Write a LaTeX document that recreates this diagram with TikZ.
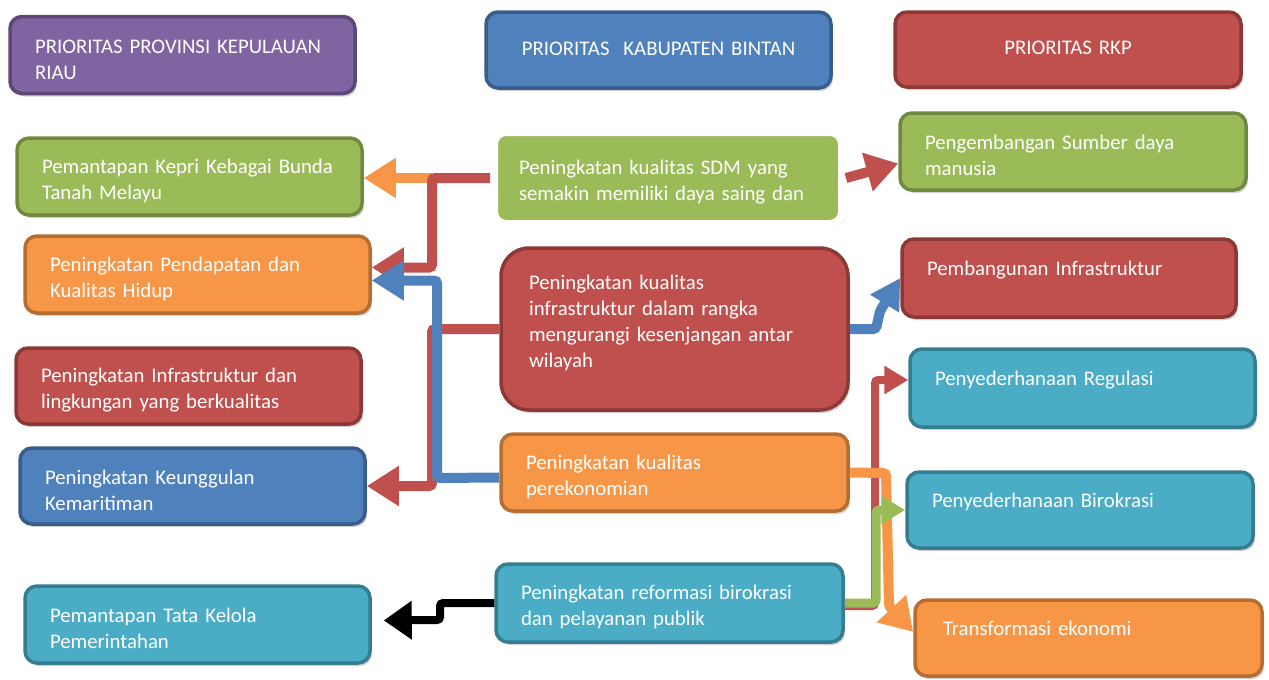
\documentclass[tikz,border=0pt]{standalone}
\usepackage{fontspec}
\setmainfont{Carlito}
\usetikzlibrary{calc,arrows.meta,shadows}

\definecolor{prPurple}{HTML}{8064A2}
\definecolor{prPurpleD}{HTML}{5C4776}
\definecolor{prBlue}{HTML}{4F81BD}
\definecolor{prBlueD}{HTML}{385D8A}
\definecolor{prRed}{HTML}{C0504D}
\definecolor{prRedD}{HTML}{8C3836}
\definecolor{prGreen}{HTML}{9BBB59}
\definecolor{prGreenD}{HTML}{71893F}
\definecolor{prOrange}{HTML}{F79646}
\definecolor{prOrangeD}{HTML}{B66D31}
\definecolor{prTeal}{HTML}{4BACC6}
\definecolor{prTealD}{HTML}{357D91}

\tikzset{
 prioBox/.style={draw, rounded corners=12pt, line width=3.5pt, text=white,
   align=left, inner xsep=25pt, inner ysep=0pt, text width=295pt,
   text height=23pt, minimum height=77pt, font=\fontsize{20.8}{26}\selectfont,
   drop shadow={opacity=0.25, fill=black!70, shadow xshift=2pt, shadow yshift=-3pt}},
 purpleBox/.style={prioBox, fill=prPurple, draw=prPurpleD},
 blueBox/.style={prioBox, fill=prBlue, draw=prBlueD},
 redBox/.style={prioBox, fill=prRed, draw=prRedD},
 greenBox/.style={prioBox, fill=prGreen, draw=prGreenD},
 orangeBox/.style={prioBox, fill=prOrange, draw=prOrangeD},
 tealBox/.style={prioBox, fill=prTeal, draw=prTealD},
 midText/.style={text depth=13pt},
 upperText/.style={text depth=29pt},
 link/.style={line width=10pt, rounded corners=3pt,
   -{Triangle[length=32pt, width=38pt]}},
 thinLink/.style={line width=8pt, rounded corners=3pt,
   -{Triangle[length=24pt, width=27pt]}}
}

\begin{document}
\begin{tikzpicture}[x=1pt, y=-1pt]
    \useasboundingbox (0,0) rectangle (1269,680);

    % headers
    \node[purpleBox] (hProv) at (182.5,55) {PRIORITAS PROVINSI KEPULAUAN\\RIAU};
    \node[blueBox, midText, align=center, minimum height=76pt] (hKab) at (658.5,50) {PRIORITAS\ \ KABUPATEN BINTAN};
    \node[redBox, midText, align=center, text width=296pt, minimum height=75pt] (hRkp) at (1068,49.5) {PRIORITAS RKP};

    % provinsi
    \node[greenBox] (pKepri) at (189.5,176.5) {Pemantapan Kepri Kebagai Bunda\\Tanah Melayu};
    \node[orangeBox] (pPendapatan) at (197.5,274.5) {Peningkatan Pendapatan dan\\Kualitas Hidup};
    \node[redBox, minimum height=76pt] (pInfra) at (188.5,386) {Peningkatan Infrastruktur dan\\lingkungan yang berkualitas};
    \node[blueBox, minimum height=76pt] (pMaritim) at (192.5,486) {Peningkatan Keunggulan\\Kemaritiman};
    \node[tealBox] (pTata) at (197.5,624.5) {Pemantapan Tata Kelola\\Pemerintahan};

    % kabupaten
    \node[greenBox, draw=white, line width=8pt, text width=298pt, minimum height=92pt,
        drop shadow={opacity=0.3, fill=black!60, shadow xshift=1.5pt, shadow yshift=-2.5pt, shadow scale=1.01}]
        (kSdm) at (668,178) {Peningkatan kualitas SDM yang\\semakin memiliki daya saing dan};
    \node[redBox, rounded corners=28pt, inner xsep=28pt, text width=291pt, text height=3pt, minimum height=162pt] (kInfra) at (674.5,329) {Peningkatan kualitas\\infrastruktur dalam rangka\\mengurangi kesenjangan antar\\wilayah};
    \node[orangeBox, text width=297pt] (kEkonomi) at (674.5,472.5) {Peningkatan kualitas\\perekonomian};
    \node[tealBox, text width=297pt, minimum height=78pt] (kReformasi) at (669.5,603) {Peningkatan reformasi birokrasi\\dan pelayanan publik};

    % rkp
    \node[greenBox, text width=296pt] (rSdm) at (1073,151.5) {Pengembangan Sumber daya\\manusia};
    \node[redBox, upperText, text width=284pt, minimum height=78pt] (rInfra) at (1069,278) {Pembangunan Infrastruktur};
    \node[tealBox, upperText, minimum height=78pt] (rRegulasi) at (1082.5,388) {Penyederhanaan Regulasi};
    \node[tealBox, upperText, text width=296pt, minimum height=76pt] (rBirokrasi) at (1080,510) {Penyederhanaan Birokrasi};
    \node[orangeBox, upperText, inner xsep=28pt, text width=291pt, minimum height=76pt] (rTransformasi) at (1088.5,638) {Transformasi ekonomi};

    % left connectors
    \coordinate (jSdm) at (432,178);
    \draw[link, prOrange] (jSdm) -- (jSdm -| pKepri.east);
    \draw[link, prRed] (kSdm.west) -- (jSdm) |- ($(pPendapatan.east)+(0,-7)$);
    \draw[link, prRed] (kInfra.west) -- (432,329) |- (pMaritim.east);
    \draw[link, prBlue] ($(kEkonomi.west)+(0,5)$) -- (437,478) |- ($(pPendapatan.east)+(0,6)$);
    \draw[link, black, line width=8pt, shorten >=12pt, -{Triangle[length=28pt, width=37pt]}]
        (kReformasi.west) -- (440,603) -- (440,620) -- ($(pTata.east)+(0,-4)$);

    % right connectors
    \draw[link, prRed] (kSdm.east) -- ($(rSdm.west)+(0,12)$);
    \draw[link, prBlue, -{Triangle[length=30pt, width=32pt]}] (kInfra.east) -- (876,329) -- (880,311) -- (rInfra.west);
    \draw[thinLink, prRed] ($(kReformasi.east)+(0,3)$) -- (875,606) |- ($(rRegulasi.west)+(0,-8)$);
    \draw[link, prOrange] (kEkonomi.east) -- (886,473) -- (889,606) -- ($(rTransformasi.west)+(0,-6)$);
    \draw[thinLink, prGreen, line width=9pt] (kReformasi.east) -- (876,603) |- (rBirokrasi.west);
\end{tikzpicture}
\end{document}
